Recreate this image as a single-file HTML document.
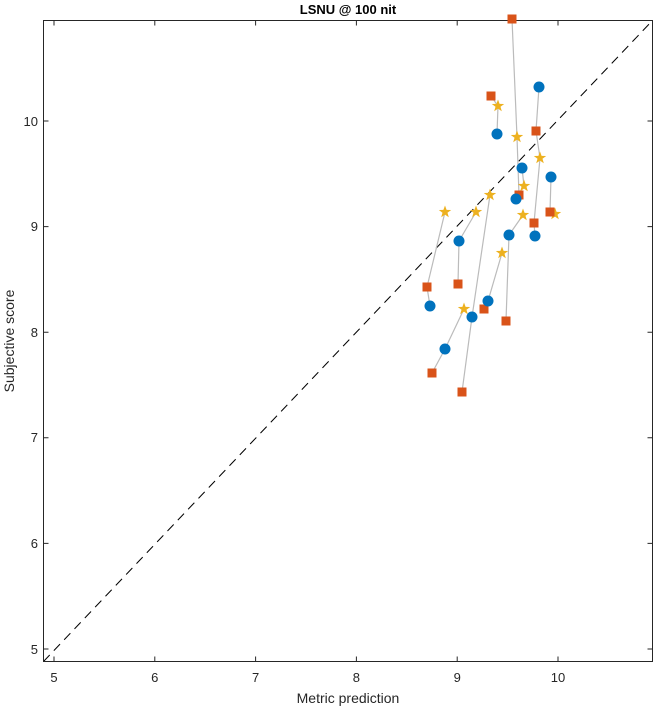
<!DOCTYPE html>
<html><head><style>body{margin:0;background:#fff}</style></head><body>
<svg width="656" height="708" xmlns="http://www.w3.org/2000/svg" font-family="Liberation Sans, Arial, sans-serif">
<rect width="656" height="708" fill="#fff"/>
<line x1="43.5" y1="661.5" x2="652.5" y2="20.5" stroke="#000" stroke-dasharray="9,6"/>
<g stroke="#262626" stroke-width="1">
<path d="M54,661.5v-5M154.8,661.5v-5M255.6,661.5v-5M356.4,661.5v-5M457.2,661.5v-5M558,661.5v-5"/>
<path d="M54,20.5v5M154.8,20.5v5M255.6,20.5v5M356.4,20.5v5M457.2,20.5v5M558,20.5v5"/>
<path d="M43.5,649h5M43.5,543.4h5M43.5,437.8h5M43.5,332.2h5M43.5,226.6h5M43.5,121h5"/>
<path d="M652.5,649h-5M652.5,543.4h-5M652.5,437.8h-5M652.5,332.2h-5M652.5,226.6h-5M652.5,121h-5"/>
<rect x="43.5" y="20.5" width="609" height="641" fill="none"/>
</g>
<g font-size="13" fill="#262626" text-anchor="middle">
<text x="54" y="682">5</text><text x="154.8" y="682">6</text><text x="255.6" y="682">7</text><text x="356.4" y="682">8</text><text x="457.2" y="682">9</text><text x="558" y="682">10</text>
</g>
<g font-size="13" fill="#262626" text-anchor="end">
<text x="38" y="654">5</text><text x="38" y="548">6</text><text x="38" y="442">7</text><text x="38" y="337">8</text><text x="38" y="231">9</text><text x="38" y="126">10</text>
</g>
<text x="348" y="703" font-size="14" fill="#262626" text-anchor="middle">Metric prediction</text>
<text transform="translate(14,341) rotate(-90)" font-size="14" fill="#262626" text-anchor="middle">Subjective score</text>
<text x="348" y="14" font-size="13" font-weight="bold" fill="#000" text-anchor="middle">LSNU @ 100 nit</text>
<g fill="none" stroke="#bbb" stroke-width="1.2">
<polyline points="512,19 517,137 519,195 516,199"/>
<polyline points="491,96 498,106 497,134"/>
<polyline points="539,87 536,131 540,158 534,223 535,236"/>
<polyline points="522,168 524,186"/>
<polyline points="551,177 550,212 555,214"/>
<polyline points="523,215 509,235 506,321"/>
<polyline points="490,195 472,317 462,392"/>
<polyline points="464,309 445,349 432,373"/>
<polyline points="445,212 427,287 430,306"/>
<polyline points="476,212 459,241 458,284"/>
<polyline points="502,253 488,301 484,309"/>
</g>
<defs>
<path id="st" d="M0,-6.5 L1.6,-2.1 6.2,-2 2.5,0.8 3.8,5.3 0,2.6 -3.8,5.3 -2.5,0.8 -6.2,-2 -1.6,-2.1Z" fill="#EDB120"/>
</defs>
<g>
<use href="#st" x="498" y="106"/><use href="#st" x="517" y="137"/><use href="#st" x="540" y="158"/><use href="#st" x="524" y="186"/><use href="#st" x="555" y="214"/><use href="#st" x="523" y="215"/><use href="#st" x="490" y="195"/><use href="#st" x="464" y="309"/><use href="#st" x="445" y="212"/><use href="#st" x="476" y="212"/><use href="#st" x="502" y="253"/>
</g>
<g fill="#D95319">
<rect x="507.5" y="14.5" width="9" height="9"/><rect x="486.5" y="91.5" width="9" height="9"/><rect x="531.5" y="126.5" width="9" height="9"/><rect x="514.5" y="190.5" width="9" height="9"/><rect x="545.5" y="207.5" width="9" height="9"/><rect x="529.5" y="218.5" width="9" height="9"/><rect x="501.5" y="316.5" width="9" height="9"/><rect x="457.5" y="387.5" width="9" height="9"/><rect x="427.5" y="368.5" width="9" height="9"/><rect x="422.5" y="282.5" width="9" height="9"/><rect x="453.5" y="279.5" width="9" height="9"/><rect x="479.5" y="304.5" width="9" height="9"/>
</g>
<g fill="#0072BD">
<circle cx="539" cy="87" r="5.5"/><circle cx="497" cy="134" r="5.5"/><circle cx="522" cy="168" r="5.5"/><circle cx="516" cy="199" r="5.5"/><circle cx="551" cy="177" r="5.5"/><circle cx="535" cy="236" r="5.5"/><circle cx="509" cy="235" r="5.5"/><circle cx="472" cy="317" r="5.5"/><circle cx="445" cy="349" r="5.5"/><circle cx="430" cy="306" r="5.5"/><circle cx="459" cy="241" r="5.5"/><circle cx="488" cy="301" r="5.5"/>
</g>
</svg>
</body></html>
